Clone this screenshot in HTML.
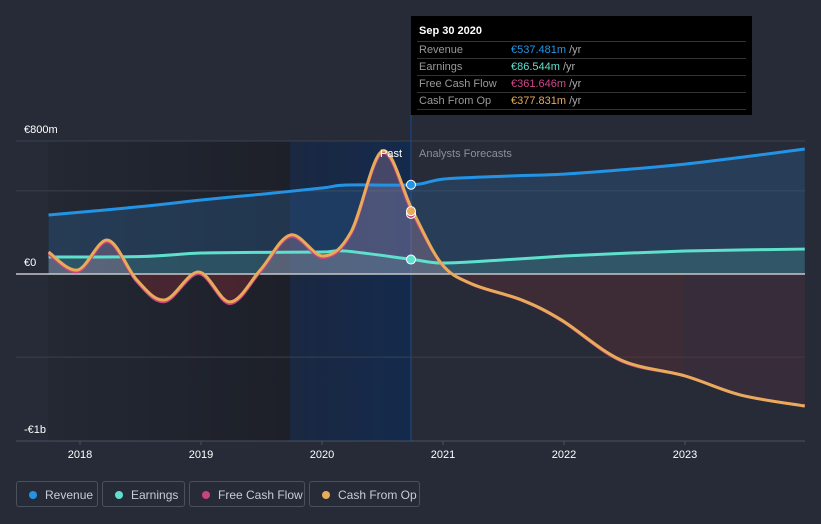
<!DOCTYPE html>
<html><head><meta charset="utf-8">
<style>
body{margin:0;background:#262b37;font-family:"Liberation Sans",sans-serif;}
#wrap{position:relative;width:821px;height:524px;overflow:hidden;background:#262b37;}
svg{position:absolute;left:0;top:0}
.tt{position:absolute;left:411px;top:16px;width:341px;height:99px;background:#000;color:#fff;font-size:11px}
.tt .h{position:absolute;left:8px;top:9px;font-weight:bold;font-size:11px}
.tt .r{position:absolute;left:6px;width:327px;height:16px;border-top:1px solid #333;color:#999;line-height:17px;padding-left:2px}
.tt .r span{position:absolute;left:94px}
.tt .r i{font-style:normal;color:#aaa}
.lg{position:absolute;top:481px;height:26px;border:1px solid #4a505c;border-radius:3px;color:#c8ccd4;font-size:12px;line-height:26px;box-sizing:border-box}
.lg b{position:absolute;left:12px;top:9px;width:8px;height:8px;border-radius:50%}
.lg span{position:absolute;left:28px}
</style></head><body>
<div id="wrap">
<svg id="chart" width="821" height="524"></svg>
<div class="tt">
<div class="h">Sep 30 2020</div>
<div class="r" style="top:25px">Revenue<span><b style="color:#2394e5;font-weight:normal">€537.481m</b> <i>/yr</i></span></div>
<div class="r" style="top:42px">Earnings<span><b style="color:#5fe0cc;font-weight:normal">€86.544m</b> <i>/yr</i></span></div>
<div class="r" style="top:59px">Free Cash Flow<span><b style="color:#d1458c;font-weight:normal">€361.646m</b> <i>/yr</i></span></div>
<div class="r" style="top:76px;border-bottom:1px solid #333">Cash From Op<span><b style="color:#e8ab59;font-weight:normal">€377.831m</b> <i>/yr</i></span></div>
</div>
<div class="lg" style="left:16px;width:82px"><b style="background:#2394e5"></b><span>Revenue</span></div>
<div class="lg" style="left:102px;width:83px"><b style="background:#5fe0cc"></b><span>Earnings</span></div>
<div class="lg" style="left:189px;width:116px"><b style="background:#c8447f"></b><span>Free Cash Flow</span></div>
<div class="lg" style="left:309px;width:111px"><b style="background:#e8ab59"></b><span>Cash From Op</span></div>
</div>
<script>
const revT=[2017.74,2018.5,2019.0,2019.5,2020.0,2020.2,2020.75,2021.0,2021.5,2022.0,2022.5,2023.0,2023.5,2023.99];
const revV=[355,405,445,480,517,535,537,571,588,601,628,661,705,752];
const earnT=[2017.74,2018.5,2019.0,2019.5,2020.0,2020.2,2020.75,2021.0,2021.5,2022.0,2022.5,2023.0,2023.5,2023.99];
const earnV=[102,105,126,130,132,138,87,66,85,108,125,138,145,150];
const cfT=[2017.74,2017.98,2018.23,2018.47,2018.7,2018.98,2019.24,2019.49,2019.74,2020.01,2020.24,2020.5,2020.75,2020.99,2021.24,2021.65,2021.98,2022.47,2023.0,2023.46,2023.99];
const cfoV=[132,24,204,-36,-156,12,-168,24,235,108,253,740,378,60,-60,-156,-277,-517,-613,-728,-794];
const fcfV=[122,14,194,-46,-166,2,-178,14,225,98,243,730,362,60,-62,-158,-280,-522,-613,-728,-794];
const yTicks=[800,0,-1000];
const yTickLabels=["€800m","€0","-€1b"];
const xTicks=[2018,2019,2020,2021,2022,2023];

const X=t=>80+(t-2018)*121;
const Y=v=>274-v*0.16625;
const svg=document.getElementById('chart');
const NS='http://www.w3.org/2000/svg';
function mk(tag,attrs,parent){const e=document.createElementNS(NS,tag);for(const k in attrs)e.setAttribute(k,attrs[k]);(parent||svg).appendChild(e);return e;}
function path(ts,vs){const p=ts.map((t,i)=>[X(t),Y(vs[i])]);let d='M'+p[0][0]+','+p[0][1];
for(let i=0;i<p.length-1;i++){const p0=p[Math.max(0,i-1)],p1=p[i],p2=p[i+1],p3=p[Math.min(p.length-1,i+2)];
d+=' C'+(p1[0]+(p2[0]-p0[0])/6)+','+(p1[1]+(p2[1]-p0[1])/6)+' '+(p2[0]-(p3[0]-p1[0])/6)+','+(p2[1]-(p3[1]-p1[1])/6)+' '+p2[0]+','+p2[1];}
return d;}
function area(ts,vs){return path(ts,vs)+' L'+X(ts[ts.length-1])+','+Y(0)+' L'+X(ts[0])+','+Y(0)+'Z';}
const defs=mk('defs',{});
const g1=mk('linearGradient',{id:'past',x1:0,x2:1,y1:0,y2:0},defs);
mk('stop',{offset:0,'stop-color':'#232833'},g1);mk('stop',{offset:1,'stop-color':'#1d2029'},g1);
const g2=mk('linearGradient',{id:'hl',x1:0,x2:1,y1:0,y2:0},defs);
mk('stop',{offset:0,'stop-color':'#1a2841'},g2);mk('stop',{offset:1,'stop-color':'#142a4c'},g2);
const cp=mk('clipPath',{id:'pos'},defs);mk('rect',{x:0,y:0,width:821,height:Y(0)},cp);
const cn=mk('clipPath',{id:'negpast'},defs);mk('rect',{x:0,y:Y(0),width:411,height:300},cn);
const cf=mk('clipPath',{id:'negfc'},defs);mk('rect',{x:411,y:Y(0),width:273,height:300},cf);
const cf2=mk('clipPath',{id:'negfc2'},defs);mk('rect',{x:684,y:Y(0),width:200,height:300},cf2);

let e;
e=mk('rect',{x:48,y:141,width:242,height:300,fill:'url(#past)'});
e=mk('rect',{x:290,y:141,width:121,height:300,fill:'url(#hl)'});
mk('line',{x1:411,y1:115,x2:411,y2:441,stroke:'#1d3b66','stroke-width':2});
[800,500,-500].forEach(v=>{const l=mk('line',{x1:16,x2:805,y1:Y(v),y2:Y(v),stroke:'#3a404c','stroke-width':1});});
yTicks.forEach((v,i)=>{const t=mk('text',{x:24,y:[133,266,433][i],fill:'#fff','font-size':11});t.textContent=yTickLabels[i];});

e=mk('path',{d:area(revT,revV),fill:'#2d6aa5','fill-opacity':0.3});
e=mk('path',{d:area(earnT,earnV),fill:'#4fb8a8','fill-opacity':0.2});
e=mk('path',{d:area(cfT,cfoV),fill:'#b88aa8','fill-opacity':0.3,'clip-path':'url(#pos)'});
e=mk('path',{d:area(cfT,cfoV),fill:'#7a2a35','fill-opacity':0.45,'clip-path':'url(#negpast)'});
e=mk('path',{d:area(cfT,cfoV),fill:'#6a2a35','fill-opacity':0.35,'clip-path':'url(#negfc)'});
e=mk('path',{d:area(cfT,cfoV),fill:'#5a2f40','fill-opacity':0.35,'clip-path':'url(#negfc2)'});
mk('line',{x1:16,x2:805,y1:Y(0),y2:Y(0),stroke:'#c8c8c8','stroke-width':1.5});

e=mk('path',{d:path(revT,revV),fill:'none',stroke:'#2394e5','stroke-width':3});
e=mk('path',{d:path(earnT,earnV),fill:'none',stroke:'#5fe0cc','stroke-width':3});
e=mk('path',{d:path(cfT,fcfV),fill:'none',stroke:'#c8447f','stroke-width':3});
e=mk('path',{d:path(cfT,cfoV),fill:'none',stroke:'#e8ab59','stroke-width':3});

[[revV[6],'#2394e5'],[earnV[6],'#5fe0cc'],[fcfV[12],'#c8447f'],[cfoV[12],'#e8ab59']].forEach(([v,c])=>{e=mk('circle',{cx:411,cy:Y(v),r:4.5,fill:c,stroke:'#fff','stroke-width':1});});

e=mk('text',{x:380,y:157,fill:'#fff','font-size':11});e.textContent='Past';
e=mk('text',{x:419,y:157,fill:'#8a909a','font-size':11});e.textContent='Analysts Forecasts';

mk('line',{x1:16,x2:805,y1:441,y2:441,stroke:'#4a505c','stroke-width':1});
xTicks.forEach(t=>{mk('line',{x1:X(t),x2:X(t),y1:441,y2:445,stroke:'#4a505c'});const l=mk('text',{x:X(t),y:458,fill:'#fff','font-size':11,'text-anchor':'middle'});l.textContent=t;});
</script>
</body></html>
